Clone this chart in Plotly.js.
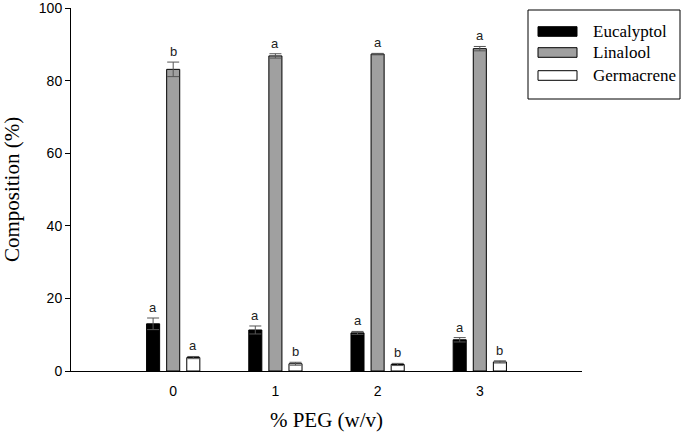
<!DOCTYPE html>
<html>
<head>
<meta charset="utf-8">
<script src="https://cdn.plot.ly/plotly-3.0.1.min.js"></script>
<style>
  html, body { margin: 0; padding: 0; background: #fff; }
  #chart { width: 685px; height: 433px; }
</style>
</head>
<body>
<div id="chart"></div>
<script>
// ---- data ----
const pegLevels = [0, 1, 2, 3];
const tickLabels = ['0', '1', '2', '3'];
const yTicks = [0, 20, 40, 60, 80, 100];
const seriesNames = ['Eucalyptol', 'Linalool', 'Germacrene'];
const eucalyptol = [13.0, 11.3, 10.5, 8.6];
const eucalyptolErr = [1.6, 1.1, 0.4, 0.6];
const linalool = [83.1, 86.8, 87.3, 88.8];
const linaloolErr = [2.0, 0.6, 0.2, 0.6];
const germacrene = [3.7, 2.0, 1.8, 2.5];
const germacreneErr = [0.3, 0.4, 0.3, 0.3];
const eucalyptolLetters = ['a', 'a', 'a', 'a'];
const linaloolLetters = ['b', 'a', 'a', 'a'];
const germacreneLetters = ['a', 'b', 'b', 'b'];

const values = [eucalyptol, linalool, germacrene];
const errors = [eucalyptolErr, linaloolErr, germacreneErr];
const letters = [eucalyptolLetters, linaloolLetters, germacreneLetters];
const fills = ['#000000', '#a0a0a0', '#ffffff'];

const bargap = 0.41, bargroupgap = 0.35;
const slot = (1 - bargap) / 3;

const traces = values.map((v, k) => ({
  type: 'bar',
  name: seriesNames[k],
  x: pegLevels,
  y: v,
  marker: { color: fills[k], line: { color: '#000', width: 1 } },
  error_y: { type: 'data', array: errors[k], visible: true, color: '#555', thickness: 1, width: 6 },
  showlegend: false,
  hoverinfo: 'skip'
}));

const annotations = [];
values.forEach((v, k) => {
  v.forEach((val, i) => {
    annotations.push({
      x: pegLevels[i] + (k - 1) * slot,
      y: val + errors[k][i],
      xref: 'x', yref: 'y',
      text: letters[k][i],
      showarrow: false,
      yanchor: 'bottom',
      yshift: 1,
      font: { family: 'Liberation Sans, Arial, sans-serif', size: 13, color: '#222' }
    });
  });
});

// custom legend (pixel -> paper conversion)
const L = 71, R = 582, T = 8, B = 371;
const px = x => (x - L) / (R - L);
const py = y => (B - y) / (B - T);
const shapes = [{
  type: 'rect', xref: 'paper', yref: 'paper',
  x0: px(528), x1: px(680), y0: py(99), y1: py(10),
  line: { color: '#000', width: 1 }, fillcolor: '#fff'
}];
const rowY = [31.5, 52.5, 75.5];
seriesNames.forEach((name, k) => {
  shapes.push({
    type: 'rect', xref: 'paper', yref: 'paper',
    x0: px(538), x1: px(577), y0: py(rowY[k] + 4.8), y1: py(rowY[k] - 4.8),
    line: { color: '#000', width: 1 }, fillcolor: fills[k]
  });
  annotations.push({
    xref: 'paper', yref: 'paper', x: px(591), y: py(rowY[k]),
    xanchor: 'left', yanchor: 'middle', showarrow: false, text: name,
    font: { family: 'Liberation Serif, Times New Roman, serif', size: 17, color: '#000' }
  });
});

const layout = {
  width: 685, height: 433,
  margin: { l: L, r: 685 - R, t: T, b: 433 - B },
  paper_bgcolor: '#fff', plot_bgcolor: '#fff',
  barmode: 'group', bargap: bargap, bargroupgap: bargroupgap,
  showlegend: false,
  xaxis: {
    range: [-1, 4], tickvals: pegLevels, ticktext: tickLabels,
    ticks: '', showgrid: false, zeroline: false,
    showline: true, linecolor: '#000', linewidth: 1,
    ticklabelstandoff: 7,
    tickfont: { family: 'Liberation Sans, Arial, sans-serif', size: 14, color: '#000' },
    title: { text: '% PEG (w/v)', standoff: 14,
      font: { family: 'Liberation Serif, Times New Roman, serif', size: 21, color: '#000' } },
    automargin: false
  },
  yaxis: {
    range: [0, 100.0001], tickvals: yTicks, ticktext: yTicks.map(String),
    ticks: 'outside', ticklen: 5, tickwidth: 1, tickcolor: '#000',
    ticklabeloverflow: 'allow',
    showgrid: false, zeroline: false,
    showline: true, linecolor: '#000', linewidth: 1,
    tickfont: { family: 'Liberation Sans, Arial, sans-serif', size: 14, color: '#000' },
    title: { text: 'Composition (%)', standoff: 18,
      font: { family: 'Liberation Serif, Times New Roman, serif', size: 21, color: '#000' } },
    automargin: false
  },
  shapes: shapes,
  annotations: annotations
};

Plotly.newPlot('chart', traces, layout, { staticPlot: true, displayModeBar: false });
</script>
</body>
</html>
